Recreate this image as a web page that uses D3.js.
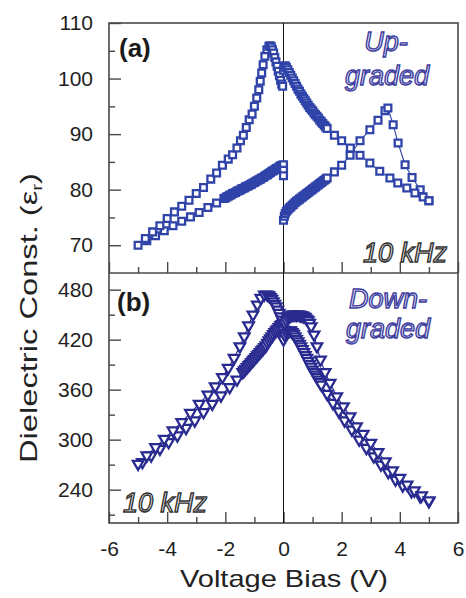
<!DOCTYPE html>
<html>
<head>
<meta charset="utf-8">
<script src="https://cdn.jsdelivr.net/npm/d3@7"></script>
<style>
body { margin: 0; background: #fff; }
</style>
</head>
<body>
<div id="chart"></div>
<script>
// Panel (a): up-graded, squares, four sweep segments
var aUpLeftX = [-5.0, -4.75, -4.5, -4.25, -4.0, -3.75, -3.5, -3.25, -3.0, -2.75, -2.5, -2.3, -2.1, -1.9, -1.75, -1.6, -1.48, -1.38, -1.28, -1.18, -1.08, -1.0, -0.92, -0.85, -0.8, -0.75, -0.7, -0.64, -0.57, -0.5, -0.46, -0.42, -0.38, -0.34, -0.3, -0.26, -0.22, -0.18, -0.14, -0.1, -0.06, -0.03];
var aUpLeftY = [70.0, 71.2, 72.4, 73.5, 74.8, 76.0, 77.0, 78.1, 79.3, 80.4, 81.9, 83.0, 84.4, 85.5, 86.3, 87.5, 88.8, 89.8, 91.2, 92.6, 93.6, 95.0, 96.5, 98.0, 99.5, 101.0, 102.5, 104.0, 105.2, 105.8, 105.9, 105.7, 105.2, 104.6, 103.8, 103.0, 102.2, 101.3, 100.5, 99.7, 99.0, 98.6];

var aLowLeftX = [-4.7, -4.4, -4.1, -3.8, -3.5, -3.2, -2.9, -2.6, -2.3,
	-2.05, -2.0, -1.95, -1.9, -1.85, -1.8, -1.75, -1.7, -1.65, -1.6, -1.55, -1.5, -1.45, -1.4, -1.35, -1.3, -1.25, -1.2, -1.15, -1.1, -1.05,
	-1.0, -0.95, -0.9, -0.85, -0.8, -0.75, -0.7, -0.65, -0.6, -0.55, -0.5, -0.45, -0.4, -0.35, -0.3, -0.25, -0.2, -0.15, -0.1, -0.05, 0.0,
	0.0, 0.0];
var aLowLeftY = [70.8, 71.7, 72.6, 73.5, 74.3, 75.1, 75.9, 76.8, 77.6,
	78.4, 78.5, 78.7, 78.8, 79.0, 79.1, 79.3, 79.4, 79.5, 79.7, 79.8, 79.9, 80.1, 80.2, 80.3, 80.5, 80.6, 80.7, 80.9, 81.0, 81.2,
	81.3, 81.5, 81.6, 81.8, 81.9, 82.1, 82.2, 82.4, 82.6, 82.7, 82.9, 83.1, 83.3, 83.4, 83.6, 83.8, 83.9, 84.1, 84.3, 84.4, 84.5,
	83.5, 82.5];

var aUpRightX = [0.0, 0.03, 0.06, 0.1,
	0.15, 0.2, 0.25, 0.3, 0.35, 0.4, 0.45, 0.5, 0.55, 0.6, 0.65, 0.7, 0.75, 0.8, 0.85, 0.9, 0.95, 1.0, 1.05, 1.1, 1.15, 1.2, 1.25, 1.3, 1.35, 1.4, 1.45, 1.5,
	1.75, 2.0, 2.3, 2.63, 2.97, 3.31, 3.66, 3.93, 4.24, 4.52, 4.8, 5.0];
var aUpRightY = [101.5, 102.1, 102.3, 102.0,
	101.6, 101.1, 100.6, 100.1, 99.6, 99.1, 98.6, 98.1, 97.7, 97.2, 96.8, 96.4, 96.0, 95.6, 95.2, 94.8, 94.5, 94.2, 93.8, 93.5, 93.2, 92.9, 92.5, 92.2, 91.9, 91.6, 91.3, 91.0,
	89.8, 88.8, 87.5, 86.2, 84.8, 83.3, 82.1, 81.2, 80.3, 79.4, 78.7, 78.0];

var aLowRightX = [0.0, 0.03, 0.06, 0.1,
	0.15, 0.2, 0.25, 0.3, 0.35, 0.4, 0.45, 0.5, 0.55, 0.6, 0.65, 0.7, 0.75, 0.8, 0.85, 0.9, 0.95, 1.0, 1.05, 1.1, 1.15, 1.2, 1.25, 1.3, 1.35, 1.4, 1.45, 1.5,
	1.75, 2.0, 2.29, 2.63, 2.97, 3.25, 3.49, 3.59, 3.77, 3.94, 4.18, 4.42, 4.7, 5.0];
var aLowRightY = [74.5, 75.2, 75.7, 76.1,
	76.4, 76.7, 76.9, 77.2, 77.4, 77.7, 77.9, 78.1, 78.3, 78.5, 78.7, 78.9, 79.1, 79.3, 79.5, 79.7, 79.9, 80.1, 80.3, 80.5, 80.7, 80.9, 81.1, 81.3, 81.5, 81.7, 81.9, 82.1,
	83.2, 84.4, 86.2, 88.8, 90.8, 92.5, 94.2, 94.7, 91.7, 88.4, 84.5, 82.2, 80.0, 78.0];

// Panel (b): down-graded, triangles, four sweep segments
var bOutLeftX = [-5.0, -4.7, -4.4, -4.1, -3.8, -3.5, -3.2, -2.9, -2.6, -2.35, -2.1, -1.9, -1.7, -1.5, -1.35, -1.2, -1.05, -0.9, -0.78, -0.66,
	-0.56, -0.5, -0.45, -0.4, -0.35, -0.3, -0.25, -0.2, -0.15, -0.1, -0.05, 0.0, 0.0, 0.0];
var bOutLeftY = [271, 281, 291, 301, 311, 321, 332, 343, 354, 364, 375, 386, 398, 412, 424, 437, 450, 462, 470, 474,
	474, 473, 471, 469, 466, 463, 460, 456, 452, 448, 444, 440, 432, 425];

var bInLeftX = [-4.85, -4.55, -4.25, -3.95, -3.65, -3.35, -3.05, -2.75, -2.45, -2.15, -1.85, -1.6,
	-1.4, -1.35, -1.3, -1.25, -1.2, -1.15, -1.1, -1.05, -1.0, -0.95, -0.9, -0.85, -0.8, -0.75, -0.7, -0.65, -0.6,
	-0.55, -0.5, -0.45, -0.4, -0.35, -0.3, -0.25, -0.2, -0.15, -0.1, -0.05, 0.0];
var bInLeftY = [273, 281, 289, 297, 305, 314, 323, 333, 343, 353, 363, 372,
	381, 383, 385, 387, 389, 391, 393, 395, 397, 399, 401, 403, 405, 407, 409, 411, 413,
	416, 419, 421.5, 424, 426.5, 429, 431, 433, 435, 437, 438.5, 440];

var bOutRightX = [0.05, 0.1, 0.15, 0.2, 0.25, 0.3, 0.35, 0.4, 0.45, 0.5, 0.55, 0.6, 0.65, 0.7, 0.75, 0.8, 0.85, 0.9, 0.95,
	1.05, 1.15, 1.27, 1.43, 1.6, 1.83, 2.06, 2.29, 2.51, 2.74, 3.0, 3.25, 3.5, 3.75, 4.0, 4.25, 4.5, 4.75, 5.0];
var bOutRightY = [440, 443, 446, 448, 449, 450, 450, 450, 450, 450, 450, 449, 449, 448, 447, 445, 443, 440, 436,
	426, 412, 396, 381, 368, 352, 340, 328, 316, 307, 296, 285, 274, 263, 254, 246, 239, 233, 227];

var bInRightX = [0.0, 0.05, 0.1, 0.15, 0.2, 0.25, 0.3, 0.35, 0.4, 0.45, 0.5, 0.55, 0.6, 0.65, 0.7, 0.75, 0.8, 0.85, 0.9, 0.95, 1.0, 1.05, 1.1, 1.15, 1.2, 1.25, 1.3,
	1.5, 1.7, 1.9, 2.1, 2.35, 2.6, 2.85, 3.1, 3.35, 3.6, 3.85, 4.1, 4.4, 4.7, 5.0];
var bInRightY = [420, 425, 428, 430, 431, 431, 429, 427, 424, 421, 418, 415, 412, 408.5, 405, 401.5, 398, 394.5, 391, 387.5, 384, 381, 378, 375, 372, 369, 366,
	355, 344, 334, 323, 312, 300, 290, 280, 270, 261, 252, 245, 238, 232, 226];

// Tick values
var xMajor = [-6, -4, -2, 0, 2, 4, 6];
var xMinor = [-5, -3, -1, 1, 3, 5];
var aMajor = [70, 80, 90, 100, 110];
var aMinor = [75, 85, 95, 105];
var bMajor = [240, 300, 360, 420, 480];
var bMinor = [210, 270, 330, 390, 450];

var svgWidth = 466;
var svgHeight = 598;

var plot = { left: 109, right: 458, top: 23, mid: 273, bottom: 523 };

var svg = d3.select("#chart")
	.append("svg")
	.attr("width", svgWidth)
	.attr("height", svgHeight)
	.style("font-family", "'Liberation Sans', Arial, sans-serif");

var xScale = d3.scaleLinear().domain([-6, 6]).range([plot.left, plot.right]);
var yA = d3.scaleLinear().domain([65, 110]).range([plot.mid, plot.top]);
var yB = d3.scaleLinear().domain([200, 500]).range([plot.bottom, plot.mid]);

var frameColor = "#484848";
var blueA = "#2f43a8";
var blueB = "#2a2b90";

function zip(xs, ys) {
	return xs.map((x, i) => ({ x: x, y: ys[i] }));
}

// Y axes (ticks pointing inward)
function yAxis(scale, major, minor) {
	svg.append("g")
		.attr("transform", `translate(${plot.left},0)`)
		.call(d3.axisLeft(scale).tickValues(minor).tickSize(-6).tickFormat(""))
		.call(g => g.select(".domain").remove())
		.call(g => g.selectAll("line").attr("stroke", frameColor).attr("stroke-width", 1.4));
	svg.append("g")
		.attr("transform", `translate(${plot.left},0)`)
		.call(d3.axisLeft(scale).tickValues(major).tickSize(-12).tickPadding(16).tickFormat(d => String(d)))
		.call(g => g.select(".domain").remove())
		.call(g => g.selectAll("line").attr("stroke", frameColor).attr("stroke-width", 1.4))
		.call(g => g.selectAll("text")
			.attr("font-size", "21px")
			.attr("fill", "#1e1e1e")
			.attr("font-family", "'Liberation Sans', Arial, sans-serif"));
}
yAxis(yA, aMajor, aMinor);
yAxis(yB, bMajor, bMinor);

// X axes at bottom of each panel
function xAxis(yPos, labels) {
	svg.append("g")
		.attr("transform", `translate(0,${yPos})`)
		.call(d3.axisBottom(xScale).tickValues(xMinor).tickSize(-6).tickFormat(""))
		.call(g => g.select(".domain").remove())
		.call(g => g.selectAll("line").attr("stroke", frameColor).attr("stroke-width", 1.4));
	var ax = d3.axisBottom(xScale).tickValues(xMajor).tickSize(-11).tickPadding(18)
		.tickFormat(labels ? (d => String(d)) : "");
	svg.append("g")
		.attr("transform", `translate(0,${yPos})`)
		.call(ax)
		.call(g => g.select(".domain").remove())
		.call(g => g.selectAll("line").attr("stroke", frameColor).attr("stroke-width", 1.4))
		.call(g => g.selectAll("text")
			.attr("font-size", "21px")
			.attr("fill", "#1e1e1e")
			.attr("font-family", "'Liberation Sans', Arial, sans-serif"));
}
xAxis(plot.mid, false);
xAxis(plot.bottom, true);

// Frame and zero line
svg.append("rect")
	.attr("x", plot.left)
	.attr("y", plot.top)
	.attr("width", plot.right - plot.left)
	.attr("height", plot.bottom - plot.top)
	.attr("fill", "none")
	.attr("stroke", frameColor)
	.attr("stroke-width", 1.6);
svg.append("line")
	.attr("x1", plot.left).attr("x2", plot.right)
	.attr("y1", plot.mid).attr("y2", plot.mid)
	.attr("stroke", frameColor).attr("stroke-width", 1.6);
svg.append("line")
	.attr("x1", xScale(0)).attr("x2", xScale(0))
	.attr("y1", plot.top).attr("y2", plot.bottom)
	.attr("stroke", "#111").attr("stroke-width", 1);

// Series drawing: thin connecting line + open markers
function drawSeries(pts, yScale, color, symbol, size, rotate) {
	var line = d3.line().x(d => xScale(d.x)).y(d => yScale(d.y));
	svg.append("path")
		.datum(pts)
		.attr("d", line)
		.attr("fill", "none")
		.attr("stroke", color)
		.attr("stroke-width", 1.1);
	svg.append("g")
		.selectAll("path")
		.data(pts)
		.enter()
		.append("path")
		.attr("d", d3.symbol().type(symbol).size(size))
		.attr("transform", d => `translate(${xScale(d.x)},${yScale(d.y)})` + (rotate ? " rotate(180)" : ""))
		.attr("fill", "#fff")
		.attr("stroke", color)
		.attr("stroke-width", 2.3);
}

drawSeries(zip(aLowLeftX, aLowLeftY), yA, blueA, d3.symbolSquare, 46, false);
drawSeries(zip(aUpLeftX, aUpLeftY), yA, blueA, d3.symbolSquare, 46, false);
drawSeries(zip(aLowRightX, aLowRightY), yA, blueA, d3.symbolSquare, 46, false);
drawSeries(zip(aUpRightX, aUpRightY), yA, blueA, d3.symbolSquare, 46, false);

drawSeries(zip(bInLeftX, bInLeftY), yB, blueB, d3.symbolTriangle, 48, true);
drawSeries(zip(bOutLeftX, bOutLeftY), yB, blueB, d3.symbolTriangle, 48, true);
drawSeries(zip(bInRightX, bInRightY), yB, blueB, d3.symbolTriangle, 48, true);
drawSeries(zip(bOutRightX, bOutRightY), yB, blueB, d3.symbolTriangle, 48, true);

// Panel labels
svg.append("text").attr("x", 119).attr("y", 57)
	.attr("font-size", "26px").attr("font-weight", "bold").attr("fill", "#1a1a1a")
	.text("(a)");
svg.append("text").attr("x", 117).attr("y", 311)
	.attr("font-size", "26px").attr("font-weight", "bold").attr("fill", "#1a1a1a")
	.text("(b)");

// Outlined italic annotations
function outlined(x, y, txt, anchor, fill, stroke) {
	svg.append("text")
		.attr("x", x).attr("y", y)
		.attr("text-anchor", anchor)
		.attr("font-size", "27px")
		.attr("font-style", "italic")
		.attr("fill", fill)
		.attr("stroke", stroke)
		.attr("stroke-width", 1.4)
		.text(txt);
}
outlined(386, 51, "Up-", "middle", "#e9e9f8", "#40409e");
outlined(387, 85, "graded", "middle", "#e9e9f8", "#40409e");
outlined(388, 308, "Down-", "middle", "#e9e9f8", "#40409e");
outlined(388, 338, "graded", "middle", "#e9e9f8", "#40409e");
outlined(447, 262, "10 kHz", "end", "#f4f4f4", "#333");
outlined(123, 512, "10 kHz", "start", "#f4f4f4", "#333");

// Axis titles
svg.append("text")
	.attr("x", (180 + 388) / 2)
	.attr("y", 587)
	.attr("text-anchor", "middle")
	.attr("font-size", "24px")
	.attr("fill", "#222")
	.attr("textLength", 208)
	.attr("lengthAdjust", "spacingAndGlyphs")
	.text("Voltage Bias (V)");

var yTitle = svg.append("text")
	.attr("transform", "translate(37,318) rotate(-90)")
	.attr("text-anchor", "middle")
	.attr("font-size", "24px")
	.attr("fill", "#222")
	.attr("textLength", 290)
	.attr("lengthAdjust", "spacingAndGlyphs");
yTitle.append("tspan").text("Dielectric Const. (ε");
yTitle.append("tspan").attr("font-size", "15px").attr("dy", 5).text("r");
yTitle.append("tspan").attr("dy", -5).text(")");
</script>
</body>
</html>
